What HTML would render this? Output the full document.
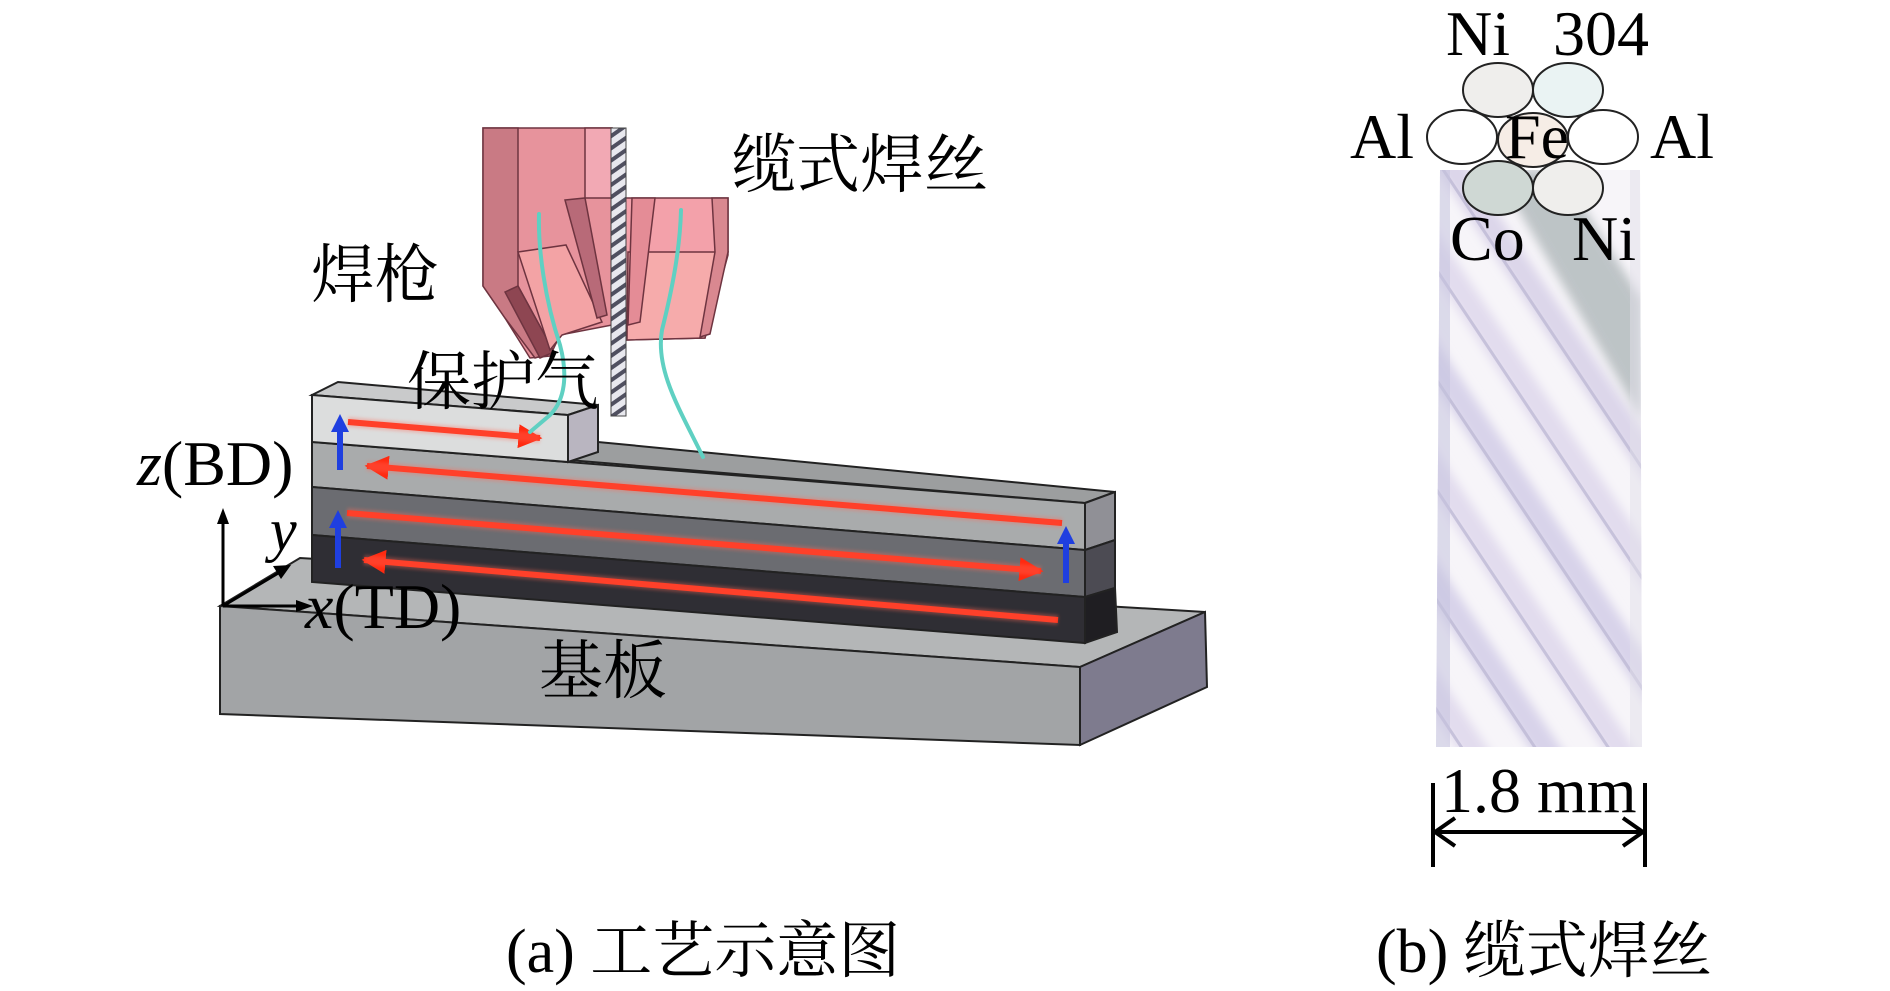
<!DOCTYPE html>
<html><head><meta charset="utf-8"><style>
html,body{margin:0;padding:0;background:#fff;width:1890px;height:991px;overflow:hidden;}
svg{display:block;position:absolute;left:0;top:0;}
.lat{font-family:"Liberation Serif",serif;fill:#000;}
.cjk{font-family:"Liberation Serif","Noto Serif CJK SC",serif;fill:#000;}
</style></head><body>
<svg width="1890" height="991" viewBox="0 0 1890 991" xmlns="http://www.w3.org/2000/svg" overflow="hidden">
<defs>
<filter id="glow" x="-5%" y="-200%" width="110%" height="500%"><feGaussianBlur stdDeviation="1.5"/></filter>
<filter id="soft"><feGaussianBlur stdDeviation="5"/></filter>
<pattern id="hatch" width="14" height="10" patternUnits="userSpaceOnUse" patternTransform="rotate(-35)">
<rect width="14" height="10" fill="#e8e8ee"/><rect width="14" height="4" fill="#505060"/></pattern>
<clipPath id="rope"><path d="M1440 170 L1640 170 L1642 747 L1436 747 Z"/></clipPath>
<marker id="ah" viewBox="0 0 10 10" refX="9" refY="5" markerWidth="4" markerHeight="4" orient="auto"><path d="M0 0L10 5L0 10Z" fill="#ff2a10"/></marker>
</defs>

<polygon points="220,606 300,558 1205,612 1080,667" fill="#b4b6b7" stroke="#222" stroke-width="2"/>
<polygon points="220,606 1080,667 1080,745 220,714" fill="#a2a4a6" stroke="#222" stroke-width="2"/>
<polygon points="1080,667 1205,612 1207,687 1080,745" fill="#7e7b8e" stroke="#222" stroke-width="2"/>

<polygon points="568,460 598,442 1115,492 1085,503" fill="#9c9e9f" stroke="#222" stroke-width="2"/>
<polygon points="312,442 568,462 1085,503 1085,550 312,487" fill="#a9abac" stroke="#222" stroke-width="2"/>
<polygon points="312,487 1085,550 1085,597 312,535" fill="#6b6c71" stroke="#222" stroke-width="2"/>
<polygon points="312,535 1085,597 1085,643 312,582" fill="#2f2e34" stroke="#222" stroke-width="2"/>
<polygon points="1085,503 1115,492 1115,540 1085,550" fill="#909096" stroke="#222" stroke-width="2"/>
<polygon points="1085,550 1115,540 1115,588 1085,597" fill="#4c4b53" stroke="#222" stroke-width="2"/>
<polygon points="1085,597 1115,588 1117,632 1085,643" fill="#1f1e22" stroke="#222" stroke-width="2"/>
<polygon points="312,395 338,382 598,405 568,415" fill="#c9cacb" stroke="#222" stroke-width="2"/>
<polygon points="312,395 568,415 568,462 312,442" fill="#dcdddd" stroke="#222" stroke-width="2"/>
<polygon points="568,415 598,405 598,452 568,462" fill="#b9b5c0" stroke="#222" stroke-width="2"/>

<g stroke="#ff2a10" stroke-width="6" fill="none">
<line x1="348" y1="422" x2="540" y2="438" marker-end="url(#ah)"/>
<line x1="1062" y1="523" x2="367" y2="466" marker-end="url(#ah)"/>
<line x1="347" y1="513" x2="1041" y2="571" marker-end="url(#ah)"/>
<line x1="1058" y1="620" x2="364" y2="560" marker-end="url(#ah)"/>
</g>
<g stroke="#ff6a5a" stroke-width="10" fill="none" opacity="0.35" filter="url(#glow)">
<line x1="348" y1="422" x2="540" y2="438"/><line x1="1062" y1="523" x2="367" y2="466"/>
<line x1="347" y1="513" x2="1041" y2="571"/><line x1="1058" y1="620" x2="364" y2="560"/>
</g>
<g fill="#1f3fe0">
<rect x="337" y="430" width="6" height="40"/><polygon points="331,432 340,414 349,432"/>
<rect x="335" y="526" width="6" height="42"/><polygon points="329,528 338,510 347,528"/>
<rect x="1063" y="542" width="6" height="41"/><polygon points="1057,544 1066,526 1075,544"/>
</g>

<g stroke="#6e3440" stroke-width="1.5">
<polygon points="483,128 612,128 612,325 560,335 550,356 530,358 505,318 483,286" fill="#e7939c"/>
<polygon points="483,128 518,128 518,286 554,352 535,358 505,318 483,286" fill="#c97a84"/>
<polygon points="505,292 518,286 554,352 540,358" fill="#8e4652"/>
<polygon points="518,252 566,245 602,322 562,335 550,350" fill="#f3a3a5"/>
<polygon points="565,200 585,198 607,315 597,318" fill="#b86a78"/>
<polygon points="585,128 612,128 612,198 585,198" fill="#f2a9b4"/>
<polygon points="612,198 728,198 728,255 705,338 627,340 612,326" fill="#f3a1aa"/>
<polygon points="628,252 728,252 705,338 627,340" fill="#f6abab"/>
<polygon points="632,198 655,198 640,322 628,325" fill="#e48c96"/>
<polygon points="712,198 728,198 728,252 710,334 700,337 715,252" fill="#d98890"/>
</g>
<rect x="611" y="128" width="15" height="288" fill="url(#hatch)" stroke="#444" stroke-width="1"/>
<g stroke="#5fd0c2" stroke-width="4" fill="none" stroke-linecap="round">
<path d="M539 214 C538 250 545 300 560 345 C568 375 565 400 550 415 L530 432"/>
<path d="M681 210 C680 250 672 290 662 330 C655 370 680 410 703 457"/>
</g>

<g stroke="#000" stroke-width="3" fill="#000">
<line x1="223" y1="606" x2="223" y2="522"/><polygon points="217,524 223,508 229,524" stroke="none"/>
<line x1="223" y1="606" x2="300" y2="606"/><polygon points="296,600 313,606 296,612" stroke="none"/>
<line x1="223" y1="606" x2="280" y2="572"/><polygon points="273,566 291,565 281,579" stroke="none"/>
</g>

<text class="lat" x="137" y="485" font-size="64"><tspan font-style="italic">z</tspan>(BD)</text>
<text class="lat" x="270" y="550" font-size="60" font-style="italic">y</text>
<text class="lat" x="305" y="628" font-size="64"><tspan font-style="italic">x</tspan>(TD)</text>
<text class="cjk" x="732" y="187" font-size="64">缆式焊丝</text>
<text class="cjk" x="311" y="297" font-size="64">焊枪</text>
<text class="cjk" x="407" y="404" font-size="64">保护气</text>
<text class="cjk" x="539" y="693" font-size="64">基板</text>
<text class="cjk" x="506" y="972" font-size="62">(a) 工艺示意图</text>

<g clip-path="url(#rope)">
<rect x="1430" y="160" width="220" height="600" fill="#f7f5f9"/>
<g fill="none" filter="url(#soft)">
<path d="M1380 60 L1700 540" stroke="#dcd6ea" stroke-width="26"/>
<path d="M1380 170 L1700 650" stroke="#e2dcee" stroke-width="26"/>
<path d="M1380 280 L1700 760" stroke="#d8d3ea" stroke-width="26"/>
<path d="M1380 390 L1700 870" stroke="#e2dcee" stroke-width="26"/>
<path d="M1380 500 L1700 980" stroke="#d8d3ea" stroke-width="26"/>
<path d="M1380 610 L1700 1090" stroke="#e2dcee" stroke-width="26"/>
</g>
<g fill="none" stroke="#b9b5d2" stroke-width="3" opacity="0.7">
<path d="M1380 75 L1700 555"/><path d="M1380 185 L1700 665"/><path d="M1380 295 L1700 775"/>
<path d="M1380 405 L1700 885"/><path d="M1380 515 L1700 995"/><path d="M1380 625 L1700 1105"/>
</g>
<path d="M1495 170 L1560 170 L1642 300 L1642 420 Z" fill="#aab3b5" opacity="0.75" filter="url(#soft)"/>
<rect x="1436" y="160" width="14" height="600" fill="#c4c2de" opacity="0.55"/>
<rect x="1630" y="160" width="14" height="600" fill="#e2dfea" opacity="0.5"/>
</g>
<g stroke="#222" stroke-width="2">
<ellipse cx="1533" cy="140" rx="35" ry="27" fill="#f6ede6"/>
<ellipse cx="1498" cy="90" rx="35" ry="27" fill="#efeeec"/>
<ellipse cx="1568" cy="90" rx="35" ry="27" fill="#eaf3f3"/>
<ellipse cx="1462" cy="137" rx="35" ry="27" fill="#ffffff"/>
<ellipse cx="1603" cy="137" rx="35" ry="27" fill="#ffffff"/>
<ellipse cx="1498" cy="188" rx="35" ry="27" fill="#cfd8d4"/>
<ellipse cx="1568" cy="188" rx="35" ry="27" fill="#efeeec"/>
</g>
<g class="lat" font-size="64">
<text x="1446" y="55">Ni</text>
<text x="1553" y="55">304</text>
<text x="1350" y="158">Al</text>
<text x="1650" y="158">Al</text>
<text x="1505" y="158">Fe</text>
<text x="1450" y="260">Co</text>
<text x="1572" y="260">Ni</text>
</g>
<g stroke="#000" stroke-width="4" fill="none">
<line x1="1433" y1="783" x2="1433" y2="867"/>
<line x1="1645" y1="783" x2="1645" y2="867"/>
<line x1="1435" y1="832" x2="1643" y2="832"/>
<polyline points="1455,818 1435,832 1455,846"/>
<polyline points="1623,818 1643,832 1623,846"/>
</g>
<text class="lat" x="1441" y="812" font-size="64">1.8 mm</text>
<text class="cjk" x="1376" y="972" font-size="62">(b) 缆式焊丝</text>
</svg>
</body></html>
